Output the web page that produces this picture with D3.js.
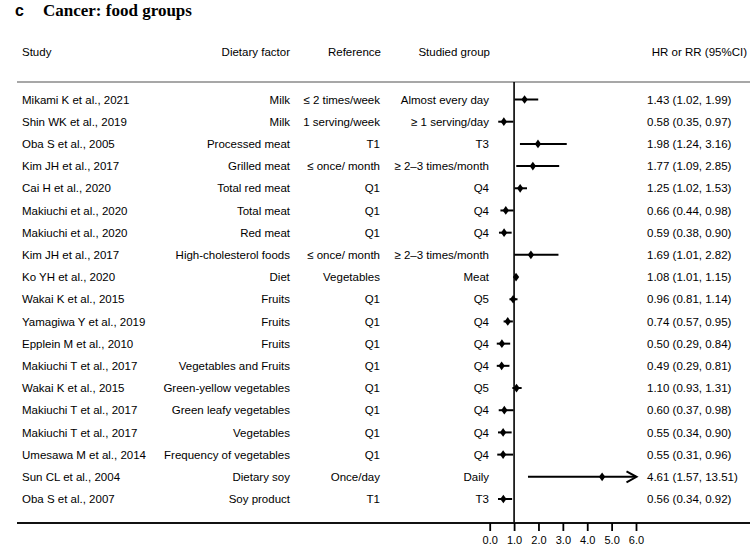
<!DOCTYPE html>
<html>
<head>
<meta charset="utf-8">
<script src="https://cdn.jsdelivr.net/npm/d3@7"></script>
<style>
  body { margin: 0; background: #fff; }
  text { font-family: "Liberation Sans", Arial, sans-serif; fill: #000; }
</style>
</head>
<body>
<script>
// forest plot data
const studies = ["Mikami K et al., 2021", "Shin WK et al., 2019", "Oba S et al., 2005", "Kim JH et al., 2017",
  "Cai H et al., 2020", "Makiuchi et al., 2020", "Makiuchi et al., 2020", "Kim JH et al., 2017",
  "Ko YH et al., 2020", "Wakai K et al., 2015", "Yamagiwa Y et al., 2019", "Epplein M et al., 2010",
  "Makiuchi T et al., 2017", "Wakai K et al., 2015", "Makiuchi T et al., 2017", "Makiuchi T et al., 2017",
  "Umesawa M et al., 2014", "Sun CL et al., 2004", "Oba S et al., 2007"];
const factors = ["Milk", "Milk", "Processed meat", "Grilled meat", "Total red meat", "Total meat", "Red meat",
  "High-cholesterol foods", "Diet", "Fruits", "Fruits", "Fruits", "Vegetables and Fruits",
  "Green-yellow vegetables", "Green leafy vegetables", "Vegetables", "Frequency of vegetables",
  "Dietary soy", "Soy product"];
const references = ["≤ 2 times/week", "1 serving/week", "T1", "≤ once/ month", "Q1", "Q1", "Q1",
  "≤ once/ month", "Vegetables", "Q1", "Q1", "Q1", "Q1", "Q1", "Q1", "Q1", "Q1", "Once/day", "T1"];
const groups = ["Almost every day", "≥ 1 serving/day", "T3", "≥ 2–3 times/month", "Q4", "Q4", "Q4",
  "≥ 2–3 times/month", "Meat", "Q5", "Q4", "Q4", "Q4", "Q5", "Q4", "Q4", "Q4", "Daily", "T3"];
const hr = [1.43, 0.58, 1.98, 1.77, 1.25, 0.66, 0.59, 1.69, 1.08, 0.96, 0.74, 0.50, 0.49, 1.10, 0.60, 0.55, 0.55, 4.61, 0.56];
const lo = [1.02, 0.35, 1.24, 1.09, 1.02, 0.44, 0.38, 1.01, 1.01, 0.81, 0.57, 0.29, 0.29, 0.93, 0.37, 0.34, 0.31, 1.57, 0.34];
const hi = [1.99, 0.97, 3.16, 2.85, 1.53, 0.98, 0.90, 2.82, 1.15, 1.14, 0.95, 0.84, 0.81, 1.31, 0.98, 0.90, 0.96, 13.51, 0.92];
const tickValues = [0, 1, 2, 3, 4, 5, 6];

const width = 750, height = 549;
const fontSize = 11.5;

const svg = d3.select("body").append("svg")
  .attr("width", width)
  .attr("height", height);

const x = d3.scaleLinear().domain([0, 6]).range([489.7, 636]);
const y = d3.scalePoint().domain(d3.range(studies.length)).range([99.5, 499]);

// title
svg.append("text").attr("x", 15).attr("y", 16)
  .style("font-weight", "bold").style("font-size", "16px").text("c");
svg.append("text").attr("x", 43).attr("y", 16)
  .style("font-family", "'Liberation Serif', 'Times New Roman', serif")
  .style("font-weight", "bold").style("font-size", "17px").text("Cancer: food groups");

// header
const header = [
  { t: "Study", x: 22, a: "start" },
  { t: "Dietary factor", x: 290, a: "end" },
  { t: "Reference", x: 381, a: "end" },
  { t: "Studied group", x: 490, a: "end" },
  { t: "HR or RR (95%CI)", x: 747, a: "end" }
];
svg.selectAll(".hdr").data(header).enter().append("text")
  .attr("class", "hdr")
  .attr("x", d => d.x).attr("y", 56)
  .attr("text-anchor", d => d.a)
  .style("font-size", fontSize + "px")
  .text(d => d.t);

svg.append("line").attr("x1", 17).attr("x2", width).attr("y1", 82).attr("y2", 82)
  .attr("stroke", "#8a8a8a").attr("stroke-width", 1.5);

// columns of text
const fmt = d3.format(".2f");
const cols = [
  { vals: studies, x: 22, a: "start" },
  { vals: factors, x: 290, a: "end" },
  { vals: references, x: 380, a: "end" },
  { vals: groups, x: 489, a: "end" },
  { vals: hr.map((d, i) => fmt(d) + " (" + fmt(lo[i]) + ", " + fmt(hi[i]) + ")"), x: 647, a: "start" }
];
cols.forEach(c => {
  svg.append("g").selectAll("text").data(c.vals).enter().append("text")
    .attr("x", c.x)
    .attr("y", (d, i) => y(i))
    .attr("dy", "0.36em")
    .attr("text-anchor", c.a)
    .style("font-size", fontSize + "px")
    .text(d => d);
});

// reference line at 1
svg.append("line").attr("x1", x(1)).attr("x2", x(1)).attr("y1", 82).attr("y2", 523)
  .attr("stroke", "#000").attr("stroke-width", 1.6);

// CIs
const xmax = x.domain()[1];
const est = hr.map((d, i) => ({ i: i, hr: d, lo: lo[i], hi: hi[i] }));
const rows = svg.append("g").selectAll("g").data(est).enter().append("g");
rows.append("line")
  .attr("x1", d => x(d.lo))
  .attr("x2", d => x(Math.min(d.hi, xmax)))
  .attr("y1", d => y(d.i)).attr("y2", d => y(d.i))
  .attr("stroke", "#000").attr("stroke-width", 2);
rows.filter(d => d.hi > xmax).append("path")
  .attr("d", d => {
    const tx = x(xmax) + 0.5, ty = y(d.i);
    return `M${tx - 10},${ty - 5.5}L${tx},${ty}L${tx - 10},${ty + 5.5}`;
  })
  .attr("fill", "none").attr("stroke", "#000").attr("stroke-width", 2);
rows.append("path")
  .attr("d", d3.symbol().type(d3.symbolDiamond).size(22))
  .attr("transform", d => `translate(${x(d.hr)},${y(d.i)}) scale(1.25,1)`)
  .attr("fill", "#000");

// bottom rule + axis
svg.append("line").attr("x1", 17).attr("x2", width).attr("y1", 523).attr("y2", 523)
  .attr("stroke", "#111").attr("stroke-width", 2.2);

const axis = svg.append("g")
  .attr("transform", "translate(0,523)")
  .call(d3.axisBottom(x).tickValues(tickValues).tickFormat(d3.format(".1f")).tickSize(8).tickPadding(5));
axis.select(".domain").remove();
axis.selectAll(".tick line").attr("stroke", "#000").attr("stroke-width", 1.8);
axis.selectAll(".tick text")
  .style("font-family", "'Liberation Sans Narrow', 'Liberation Sans', Arial, sans-serif")
  .style("font-size", "11px").attr("fill", "#000");
</script>
</body>
</html>
